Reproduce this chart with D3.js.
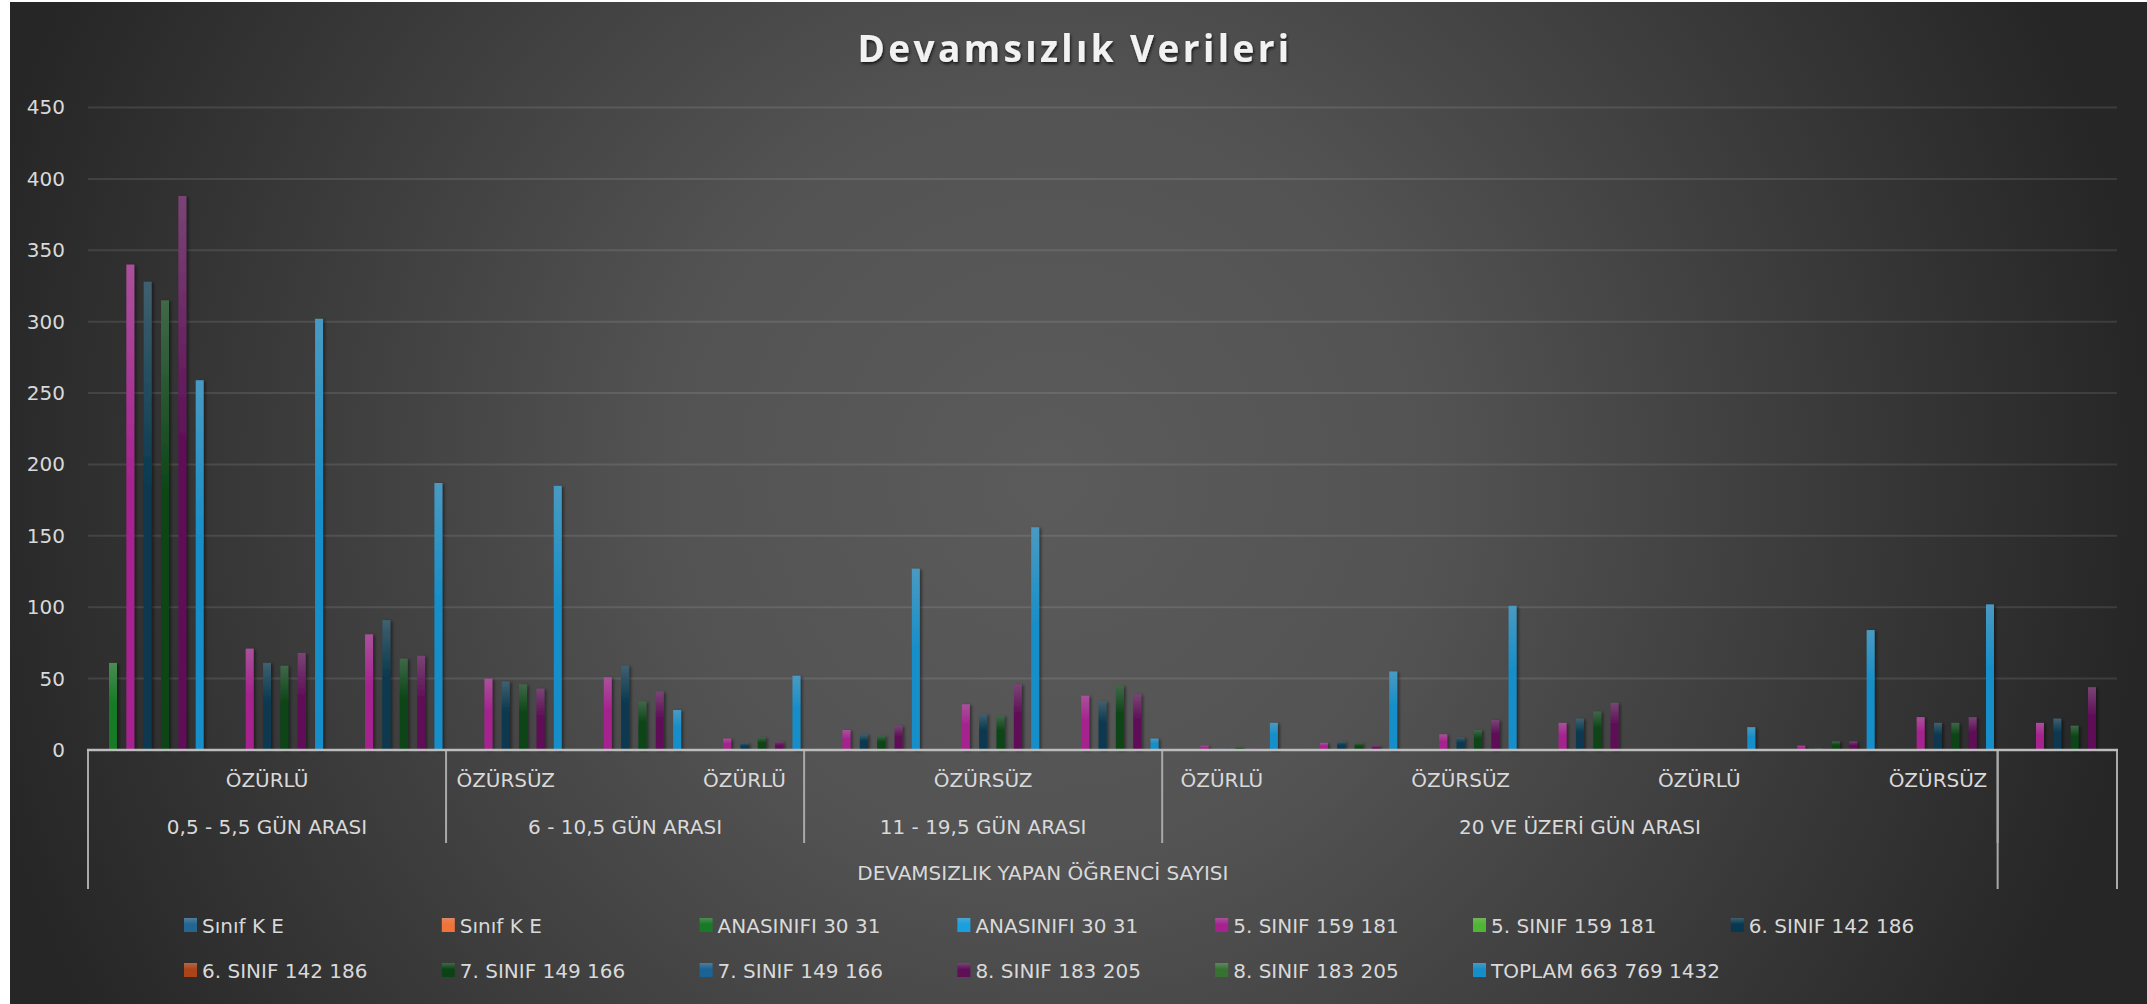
<!DOCTYPE html>
<html>
<head>
<meta charset="utf-8">
<script src="https://cdn.jsdelivr.net/npm/d3@7"></script>
<style>
  html, body { margin: 0; padding: 0; background: #fff; }
  svg { display: block; }
  text { font-family: "DejaVu Sans", "Open Sans", sans-serif; }
</style>
</head>
<body>
<div id="chart"></div>
<script>
// Veriler
const level1Labels = ["", "ÖZÜRLÜ", "", "ÖZÜRSÜZ", "", "ÖZÜRLÜ", "", "ÖZÜRSÜZ", "", "ÖZÜRLÜ", "", "ÖZÜRSÜZ", "", "ÖZÜRLÜ", "", "ÖZÜRSÜZ", ""];
const level2Labels = ["0,5 - 5,5 GÜN ARASI", "6 - 10,5 GÜN ARASI", "11 - 19,5 GÜN ARASI", "20 VE ÜZERİ GÜN ARASI", ""];
const level2Spans = [3, 3, 3, 7, 1];
const level3Labels = ["DEVAMSIZLIK YAPAN ÖĞRENCİ SAYISI", ""];
const level3Spans = [16, 1];

const yTicks = [0, 50, 100, 150, 200, 250, 300, 350, 400, 450];

const seriesNames = [
    "Sınıf K E", "Sınıf K E", "ANASINIFI 30 31", "ANASINIFI 30 31",
    "5. SINIF 159 181", "5. SINIF 159 181", "6. SINIF 142 186",
    "6. SINIF 142 186", "7. SINIF 149 166", "7. SINIF 149 166",
    "8. SINIF 183 205", "8. SINIF 183 205", "TOPLAM 663 769 1432"
];
const seriesColors = [
    "#246591", "#f0733a", "#187a26", "#1a9fdf",
    "#a6238f", "#4fb634", "#08384f",
    "#ad4418", "#0a4415", "#1a6394",
    "#5e0f57", "#377233", "#168ec9"
];

// seri değerleri (17 kategori)
const sinifK1     = [];
const sinifK2     = [];
const anasinifi1  = [61, 0, 0, 0, 0, 0, 0, 0, 0, 0, 0, 0, 0, 0, 0, 0, 0];
const anasinifi2  = [];
const sinif5a     = [340, 71, 81, 50, 51, 8, 14, 32, 38, 3, 5, 11, 19, 0, 3, 23, 19];
const sinif5b     = [];
const sinif6a     = [328, 61, 91, 48, 59, 5, 11, 25, 34, 1, 6, 9, 22, 0, 1, 19, 22];
const sinif6b     = [];
const sinif7a     = [315, 59, 64, 46, 34, 9, 10, 24, 45, 2, 5, 14, 27, 0, 6, 19, 17];
const sinif7b     = [];
const sinif8a     = [388, 68, 66, 43, 41, 6, 17, 46, 39, 1, 3, 21, 33, 0, 6, 23, 44];
const sinif8b     = [];
const toplam      = [259, 302, 187, 185, 28, 52, 127, 156, 8, 19, 55, 101, 0, 16, 84, 102, 0];

const seriesValues = [sinifK1, sinifK2, anasinifi1, anasinifi2, sinif5a, sinif5b,
    sinif6a, sinif6b, sinif7a, sinif7b, sinif8a, sinif8b, toplam];

const W = 2147, H = 1004;
const plot = { left: 88, right: 2117, top: 107.5, bottom: 750 };
const nCat = level1Labels.length;

const svg = d3.select('#chart').append('svg')
    .attr('width', W).attr('height', H);

const defs = svg.append('defs');

// arka plan gradyanı
const bg = defs.append('radialGradient').attr('id', 'bg')
    .attr('gradientUnits', 'userSpaceOnUse')
    .attr('cx', 1050).attr('cy', 480).attr('r', 1100);
bg.append('stop').attr('offset', '0%').attr('stop-color', '#5b5b5b');
bg.append('stop').attr('offset', '35%').attr('stop-color', '#535353');
bg.append('stop').attr('offset', '100%').attr('stop-color', '#262626');

// seri gradyanları
seriesColors.forEach((c, i) => {
    const top = d3.interpolateRgb(c, '#b4b4b4')(0.32);
    const g = defs.append('linearGradient').attr('id', 'sg' + i)
        .attr('x1', 0).attr('y1', 0).attr('x2', 0).attr('y2', 1);
    g.append('stop').attr('offset', '0%').attr('stop-color', top);
    g.append('stop').attr('offset', '45%').attr('stop-color', c);
    g.append('stop').attr('offset', '100%').attr('stop-color', c);
});

const shadow = defs.append('filter').attr('id', 'barShadow')
    .attr('x', '-50%').attr('y', '-10%').attr('width', '250%').attr('height', '120%');
shadow.append('feDropShadow').attr('dx', 2).attr('dy', 1)
    .attr('stdDeviation', 1.5).attr('flood-color', '#000').attr('flood-opacity', 0.45);

const tshadow = defs.append('filter').attr('id', 'titleShadow')
    .attr('x', '-10%').attr('y', '-30%').attr('width', '120%').attr('height', '160%');
tshadow.append('feDropShadow').attr('dx', 1).attr('dy', 2)
    .attr('stdDeviation', 1.5).attr('flood-color', '#000').attr('flood-opacity', 0.7);

svg.append('rect').attr('x', 10).attr('y', 2)
    .attr('width', W - 10).attr('height', H - 2)
    .attr('fill', 'url(#bg)');

// başlık
svg.append('text')
    .attr('x', 1075).attr('y', 62)
    .attr('text-anchor', 'middle')
    .attr('font-size', 37).attr('font-weight', 700)
    .attr('letter-spacing', 3.4)
    .attr('fill', '#f2f2f2')
    .attr('filter', 'url(#titleShadow)')
    .style('font-family', '"Open Sans", sans-serif')
    .text('Devamsızlık Verileri');

// ölçekler
const y = d3.scaleLinear().domain([0, 450]).range([plot.bottom, plot.top]);
const x0 = d3.scaleBand().domain(d3.range(nCat))
    .range([plot.left, plot.right]).paddingInner(0.05).paddingOuter(0.025);
const x1 = d3.scaleBand().domain(d3.range(seriesNames.length))
    .range([0, x0.bandwidth()]).padding(0.08);
const xb = d3.scaleLinear().domain([0, nCat]).range([plot.left, plot.right]);

// ızgara
svg.append('g').selectAll('line')
    .data(yTicks.filter(t => t > 0))
    .join('line')
    .attr('x1', plot.left).attr('x2', plot.right)
    .attr('y1', d => y(d)).attr('y2', d => y(d))
    .attr('stroke', 'rgba(255,255,255,0.1)').attr('stroke-width', 2);

// y ekseni
const yAxis = svg.append('g')
    .attr('transform', `translate(${plot.left},0)`)
    .call(d3.axisLeft(y).tickValues(yTicks).tickSize(0).tickPadding(23));
yAxis.select('.domain').remove();
yAxis.selectAll('text')
    .attr('font-size', 20).attr('fill', '#d9d9d9')
    .style('font-family', '"DejaVu Sans", sans-serif');

// çubuklar
const barData = [];
seriesValues.forEach((vals, s) => {
    vals.forEach((v, c) => { if (v > 0) barData.push({ s, c, v }); });
});
svg.append('g').selectAll('rect')
    .data(barData)
    .join('rect')
    .attr('x', d => x0(d.c) + x1(d.s))
    .attr('width', x1.bandwidth())
    .attr('y', d => y(d.v))
    .attr('height', d => y(0) - y(d.v))
    .attr('fill', d => `url(#sg${d.s})`)
    .attr('filter', 'url(#barShadow)');

// kategori ekseni
const axisG = svg.append('g');
const lineColor = '#a9a9a9';

const cum = spans => spans.reduce((a, s) => { a.push(a[a.length - 1] + s); return a; }, [0]);
const b2 = cum(level2Spans);
const b3 = cum(level3Spans);

axisG.selectAll('line.l2')
    .data(b2)
    .join('line').attr('class', 'l2')
    .attr('x1', d => xb(d)).attr('x2', d => xb(d))
    .attr('y1', plot.bottom).attr('y2', 843)
    .attr('stroke', lineColor).attr('stroke-width', 2);
axisG.selectAll('line.l3')
    .data(b3)
    .join('line').attr('class', 'l3')
    .attr('x1', d => xb(d)).attr('x2', d => xb(d))
    .attr('y1', plot.bottom).attr('y2', 889)
    .attr('stroke', lineColor).attr('stroke-width', 2);

axisG.append('line')
    .attr('x1', plot.left - 1).attr('x2', plot.right + 1)
    .attr('y1', plot.bottom).attr('y2', plot.bottom)
    .attr('stroke', '#bdbdbd').attr('stroke-width', 2.5);

const labelStyle = sel => sel
    .attr('text-anchor', 'middle')
    .attr('font-size', 20)
    .attr('fill', '#d9d9d9');

axisG.selectAll('text.l1')
    .data(level1Labels.map((t, i) => ({ t, i })).filter(d => d.t))
    .join('text').attr('class', 'l1')
    .attr('x', d => xb(d.i + 0.5)).attr('y', 787)
    .call(labelStyle)
    .text(d => d.t);

axisG.selectAll('text.l2')
    .data(level2Labels.map((t, i) => ({ t, i })).filter(d => d.t))
    .join('text').attr('class', 'l2')
    .attr('x', d => xb((b2[d.i] + b2[d.i + 1]) / 2)).attr('y', 834)
    .call(labelStyle)
    .text(d => d.t);

axisG.selectAll('text.l3')
    .data(level3Labels.map((t, i) => ({ t, i })).filter(d => d.t))
    .join('text').attr('class', 'l3')
    .attr('x', d => xb((b3[d.i] + b3[d.i + 1]) / 2)).attr('y', 880)
    .call(labelStyle)
    .text(d => d.t);

// lejant
const perRow = 7;
const legend = svg.append('g');
const items = legend.selectAll('g')
    .data(seriesNames.map((n, i) => ({ n, i })))
    .join('g')
    .attr('transform', d => `translate(${184 + (d.i % perRow) * 257.8},${925 + Math.floor(d.i / perRow) * 45})`);
items.append('rect')
    .attr('x', 0).attr('y', -7).attr('width', 13).attr('height', 14)
    .attr('fill', d => `url(#sg${d.i})`);
items.append('text')
    .attr('x', 18).attr('y', 7.5)
    .attr('font-size', 20).attr('fill', '#d9d9d9')
    .text(d => d.n);
</script>
</body>
</html>
